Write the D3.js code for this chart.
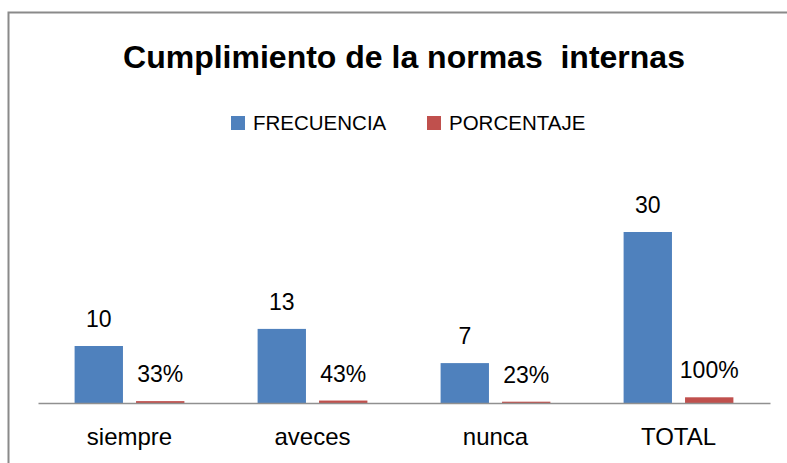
<!DOCTYPE html>
<html>
<head>
<meta charset="utf-8">
<script src="https://cdn.jsdelivr.net/npm/d3@7"></script>
<style>
  body { margin: 0; background: #fff; }
  svg { display: block; font-family: "Liberation Sans", Arial, sans-serif; }
</style>
</head>
<body>
<svg id="chart" width="787" height="463"></svg>
<script>
// chart data
var categories = ["siempre", "aveces", "nunca", "TOTAL"];
var series = ["FRECUENCIA", "PORCENTAJE"];
var frecuencia = [10, 13, 7, 30];
var porcentaje = [0.33, 0.43, 0.23, 1.00];
var colors = ["#4F81BD", "#C0504D"];

var svg = d3.select("#chart");

// outer frame (only top and left edges fall inside the picture)
svg.append("rect")
    .attr("x", 8.5).attr("y", 12.5)
    .attr("width", 900).attr("height", 600)
    .attr("fill", "#fff")
    .attr("stroke", "#8a8a8a")
    .attr("stroke-width", 2);

// title
svg.append("text")
    .attr("x", 404).attr("y", 68)
    .attr("text-anchor", "middle")
    .style("font-size", "32px")
    .style("font-weight", "bold")
    .style("white-space", "pre")
    .text("Cumplimiento de la normas  internas");

// legend
var legendX = [231, 427];
var legend = svg.selectAll(".legend")
    .data(series)
    .enter().append("g")
    .attr("class", "legend")
    .attr("transform", function(d, i) { return "translate(" + legendX[i] + ",116)"; });
legend.append("rect")
    .attr("width", 14).attr("height", 14)
    .attr("fill", function(d, i) { return colors[i]; });
legend.append("text")
    .attr("x", 22).attr("y", 13.5)
    .style("font-size", "20.5px")
    .text(function(d) { return d; });

// scales
var x0 = d3.scaleBand().domain(categories).range([38, 770]);
var x1 = d3.scaleBand().domain(series)
    .range([x0.bandwidth() * 0.2, x0.bandwidth() * 0.8])
    .paddingInner(0.213);
var y = d3.scaleLinear().domain([0, 35]).range([403, 203.5]);

// rows: one per category
var rows = categories.map(function(c, i) {
    return { cat: c, vals: [
        { s: series[0], v: frecuencia[i], label: String(frecuencia[i]) },
        { s: series[1], v: porcentaje[i], label: Math.round(porcentaje[i] * 100) + "%" }
    ]};
});

var groups = svg.selectAll(".grp")
    .data(rows)
    .enter().append("g")
    .attr("class", "grp")
    .attr("transform", function(d) { return "translate(" + x0(d.cat) + ",0)"; });

groups.selectAll("rect")
    .data(function(d) { return d.vals; })
    .enter().append("rect")
    .attr("x", function(d) { return x1(d.s); })
    .attr("y", function(d) { return y(d.v); })
    .attr("width", x1.bandwidth())
    .attr("height", function(d) { return y(0) - y(d.v); })
    .attr("fill", function(d, i) { return colors[i]; });

groups.selectAll(".val")
    .data(function(d) { return d.vals; })
    .enter().append("text")
    .attr("class", "val")
    .attr("x", function(d) { return x1(d.s) + x1.bandwidth() / 2; })
    .attr("y", function(d) { return y(d.v) - 19; })
    .attr("text-anchor", "middle")
    .style("font-size", "23px")
    .text(function(d) { return d.label; });

// category axis
var axis = svg.append("g")
    .attr("transform", "translate(0," + y(0) + ")")
    .call(d3.axisBottom(x0).tickSize(0).tickSizeOuter(0));
axis.select(".domain")
    .attr("stroke", "#909090")
    .attr("stroke-width", 1.5);
axis.selectAll("text")
    .attr("y", 42).attr("dy", 0)
    .attr("fill", "#000")
    .style("font-family", "Liberation Sans, Arial, sans-serif")
    .style("font-size", "24px");
</script>
</body>
</html>
